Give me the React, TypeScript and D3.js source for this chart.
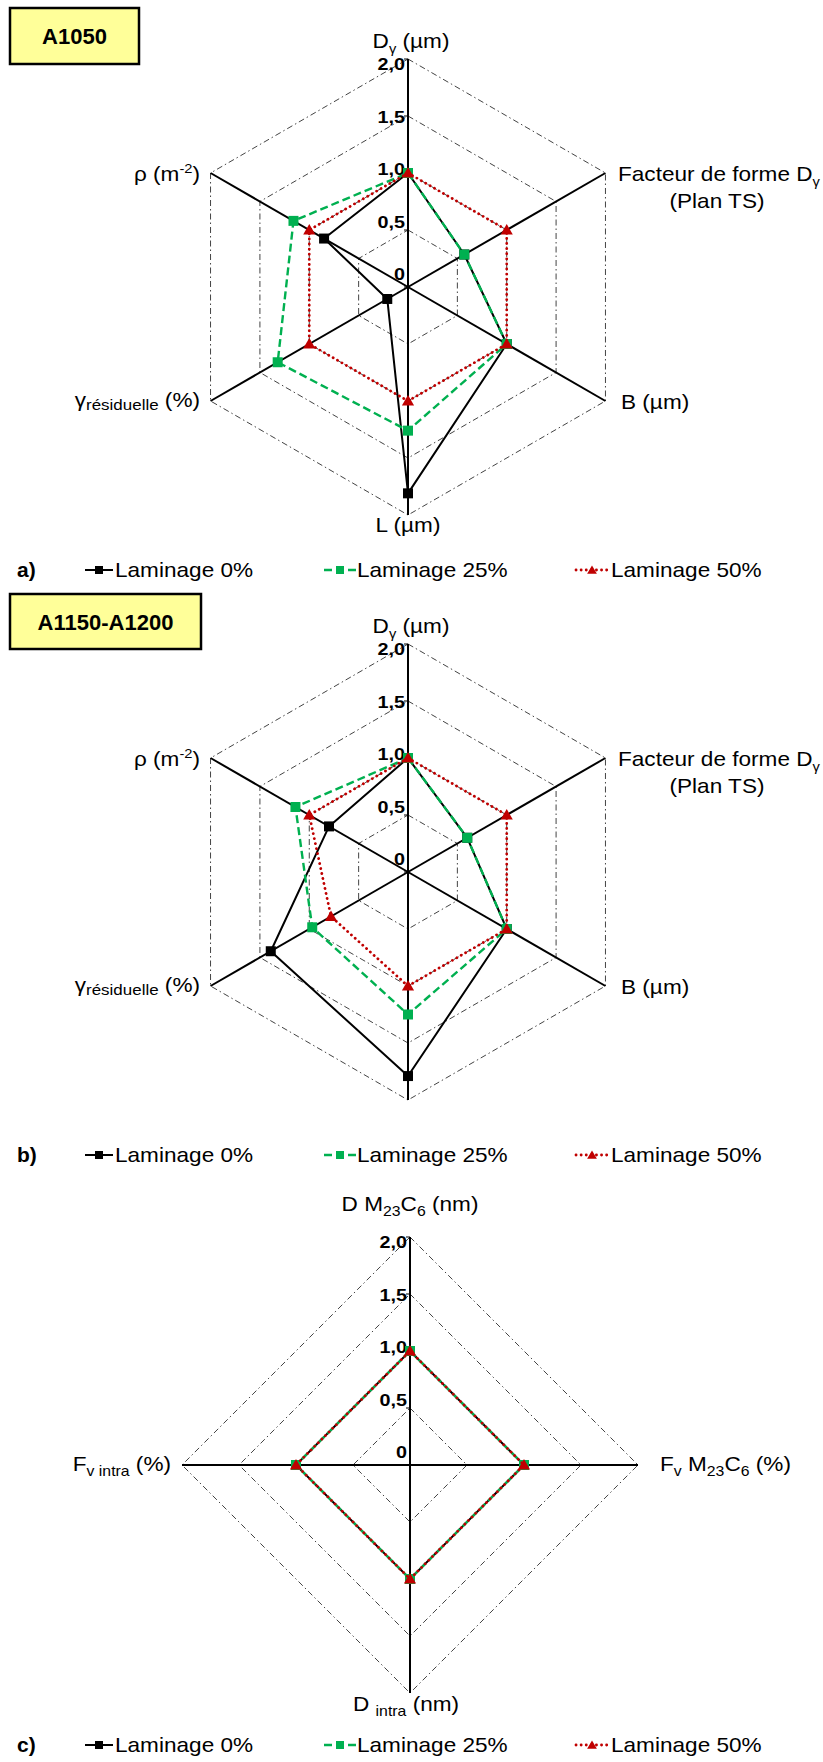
import React from "react";
import * as d3 from "d3";

const seriesNames = ["Laminage 0%", "Laminage 25%", "Laminage 50%"];
const seriesColors = ["#000000", "#00B050", "#C00000"];
const tickValues = [0, 0.5, 1.0, 1.5, 2.0];
const tickLabels = ["0", "0,5", "1,0", "1,5", "2,0"];

// Panel a (A1050) axes clockwise from top: Dγ, Facteur de forme, B, L, γ résiduelle, ρ
const axesA = ["Dγ (µm)", "Facteur de forme Dγ (Plan TS)", "B (µm)", "L (µm)", "γrésiduelle (%)", "ρ (m-2)"];
const lam0A = [1.0, 0.57, 1.0, 1.81, 0.21, 0.85];
const lam25A = [1.0, 0.57, 1.0, 1.26, 1.32, 1.16];
const lam50A = [1.0, 1.0, 1.0, 1.0, 1.0, 1.0];

// Panel b (A1150-A1200)
const axesB = axesA;
const lam0B = [1.0, 0.6, 1.0, 1.79, 1.39, 0.8];
const lam25B = [1.0, 0.6, 1.0, 1.25, 0.97, 1.14];
const lam50B = [1.0, 1.0, 1.0, 1.0, 0.78, 1.0];

// Panel c axes clockwise from top: D M23C6, Fv M23C6, D intra, Fv intra
const axesC = ["D M23C6 (nm)", "Fv M23C6 (%)", "D intra (nm)", "Fv intra (%)"];
const lam0C = [1.0, 1.0, 1.0, 1.0];
const lam25C = [1.0, 1.0, 1.0, 1.0];
const lam50C = [1.0, 1.0, 1.0, 1.0];

const panelTitles = ["A1050", "A1150-A1200"];
const panelLetters = ["a)", "b)", "c)"];

const FONT = "'Liberation Sans', Arial, Helvetica, sans-serif";
const W = 823;
const H = 1762;

function T({ x, y, anchor = "start", size = 20, weight = "normal", sx = 1.13, children }: any) {
  return (
    <text
      transform={`translate(${x},${y}) scale(${sx},1)`}
      textAnchor={anchor}
      fontSize={size}
      fontWeight={weight}
      fontFamily={FONT}
      fill="#000"
    >
      {children}
    </text>
  );
}

const lineStyles = [
  { dash: undefined, width: 2, cap: "butt" },
  { dash: "8,4", width: 2.4, cap: "butt" },
  { dash: "0.1,5", width: 2.8, cap: "round" },
];

function Marker({ s, x, y, scale = 1 }: any) {
  if (s === 2) {
    const d = d3.symbol().type(d3.symbolTriangle).size(64 * scale * scale)();
    return <path d={d || ""} transform={`translate(${x},${y + 1})`} fill={seriesColors[2]} />;
  }
  const d = d3.symbol().type(d3.symbolSquare).size(100 * scale * scale)();
  return <path d={d || ""} transform={`translate(${x},${y})`} fill={seriesColors[s]} />;
}

function Radar({ cx, cy, R, data }: any) {
  const n = data[0].length;
  const r = d3.scaleLinear().domain([0, 2]).range([0, R]);
  const rl = d3.scaleLinear().domain([0, 2]).range([13, R - 5]);
  const ang = (i: number) => (i * 2 * Math.PI) / n;
  const radial = d3
    .lineRadial<number>()
    .angle((_, i) => ang(i))
    .radius((v) => r(v))
    .curve(d3.curveLinearClosed);
  const pt = (i: number, v: number) => [r(v) * Math.sin(ang(i)), -r(v) * Math.cos(ang(i))];

  return (
    <g transform={`translate(${cx},${cy})`}>
      {tickValues
        .filter((v) => v > 0)
        .map((v) => (
          <path
            key={"g" + v}
            d={radial(new Array(n).fill(v)) || ""}
            fill="none"
            stroke="#444"
            strokeWidth={1}
            strokeDasharray="6,3,1.5,3"
          />
        ))}
      {d3.range(n).map((i) => {
        const [x, y] = pt(i, 2);
        return <line key={"s" + i} x1={0} y1={0} x2={x} y2={y} stroke="#000" strokeWidth={2} />;
      })}
      {tickValues.map((v) => (
        <line key={"t" + v} x1={-4} x2={0} y1={-r(v)} y2={-r(v)} stroke="#000" strokeWidth={1} />
      ))}
      {tickValues.map((v, k) => (
        <T key={"l" + v} x={-3} y={-rl(v) + 6} anchor="end" size={16.5} weight="bold" sx={1.2}>
          {tickLabels[k]}
        </T>
      ))}
      {data.map((vals: number[], s: number) => (
        <g key={"ser" + s}>
          <path
            d={radial(vals) || ""}
            fill="none"
            stroke={seriesColors[s]}
            strokeWidth={lineStyles[s].width}
            strokeDasharray={lineStyles[s].dash}
            strokeLinecap={lineStyles[s].cap as any}
            strokeLinejoin="round"
          />
          {vals.map((v, i) => {
            const [x, y] = pt(i, v);
            return <Marker key={i} s={s} x={x} y={y} />;
          })}
        </g>
      ))}
    </g>
  );
}

function Legend({ y, letter }: any) {
  const items = [
    { x1: 85, x2: 113, tx: 115 },
    { x1: 324, x2: 356, tx: 357 },
    { x1: 576, x2: 608, tx: 611 },
  ];
  return (
    <g>
      <T x={17} y={y + 7} size={20} weight="bold" sx={1.05}>
        {letter}
      </T>
      {items.map((it, s) => (
        <g key={s}>
          <line
            x1={it.x1}
            x2={it.x2}
            y1={y}
            y2={y}
            stroke={seriesColors[s]}
            strokeWidth={lineStyles[s].width}
            strokeDasharray={lineStyles[s].dash}
            strokeLinecap={lineStyles[s].cap as any}
          />
          <Marker s={s} x={(it.x1 + it.x2) / 2} y={y} scale={0.8} />
          <T x={it.tx} y={y + 7} size={20}>
            {seriesNames[s]}
          </T>
        </g>
      ))}
    </g>
  );
}

function TitleBox({ x, y, w, h, text }: any) {
  return (
    <g>
      <rect x={x} y={y} width={w} height={h} fill="#FFFF99" stroke="#000" strokeWidth={2.5} />
      <text
        x={x + w / 2}
        y={y + h / 2 + 8}
        textAnchor="middle"
        fontSize={22}
        fontWeight="bold"
        fontFamily={FONT}
      >
        {text}
      </text>
    </g>
  );
}

function HexLabels({ cx, cy, showL }: any) {
  return (
    <g>
      <T x={cx + 3} y={cy - 239} anchor="middle">
        D<tspan fontSize={13} dy={5}>γ</tspan>
        <tspan dy={-5}> (µm)</tspan>
      </T>
      <T x={cx + 210} y={cy - 106}>
        Facteur de forme D<tspan fontSize={13} dy={5}>γ</tspan>
      </T>
      <T x={cx + 309} y={cy - 79} anchor="middle">
        (Plan TS)
      </T>
      <T x={cx + 213} y={cy + 122}>
        B (µm)
      </T>
      {showL && (
        <T x={cx} y={cy + 245} anchor="middle">
          L (µm)
        </T>
      )}
      <T x={200} y={cy + 120} anchor="end">
        γ<tspan fontSize={15} dy={3}>résiduelle</tspan>
        <tspan dy={-3}> (%)</tspan>
      </T>
      <T x={200} y={cy - 106} anchor="end">
        ρ (m<tspan fontSize={13} dy={-8}>-2</tspan>
        <tspan dy={8}>)</tspan>
      </T>
    </g>
  );
}

function DiamondLabels({ cx, cy }: any) {
  return (
    <g>
      <T x={cx} y={cy - 254} anchor="middle">
        D M<tspan fontSize={14} dy={5}>23</tspan>
        <tspan dy={-5}>C</tspan>
        <tspan fontSize={14} dy={5}>6</tspan>
        <tspan dy={-5}> (nm)</tspan>
      </T>
      <T x={cx + 250} y={cy + 6}>
        F<tspan fontSize={14} dy={5}>v</tspan>
        <tspan dy={-5}> M</tspan>
        <tspan fontSize={14} dy={5}>23</tspan>
        <tspan dy={-5}>C</tspan>
        <tspan fontSize={14} dy={5}>6</tspan>
        <tspan dy={-5}> (%)</tspan>
      </T>
      <T x={cx - 57} y={cy + 246}>
        D <tspan fontSize={14} dy={5}>intra</tspan>
        <tspan dy={-5}> (nm)</tspan>
      </T>
      <T x={171} y={cy + 6} anchor="end">
        F<tspan fontSize={14} dy={5}>v intra</tspan>
        <tspan dy={-5}> (%)</tspan>
      </T>
    </g>
  );
}

export default function App() {
  const R = 228;
  const dataA = [lam0A, lam25A, lam50A];
  const dataB = [lam0B, lam25B, lam50B];
  const dataC = [lam0C, lam25C, lam50C];
  return (
    <svg
      width={W}
      height={H}
      viewBox={`0 0 ${W} ${H}`}
      style={{ position: "absolute", left: 0, top: 0, background: "#fff" }}
    >
      <rect x={0} y={0} width={W} height={H} fill="#fff" />
      <TitleBox x={10} y={8} w={129} h={56} text={panelTitles[0]} />
      <Radar cx={408} cy={287} R={R} data={dataA} />
      <HexLabels cx={408} cy={287} showL={true} />
      <Legend y={570} letter={panelLetters[0]} />

      <TitleBox x={10} y={594} w={191} h={55} text={panelTitles[1]} />
      <Radar cx={408} cy={872} R={R} data={dataB} />
      <HexLabels cx={408} cy={872} showL={false} />
      <Legend y={1155} letter={panelLetters[1]} />

      <Radar cx={410} cy={1465} R={R} data={dataC} />
      <DiamondLabels cx={410} cy={1465} />
      <Legend y={1745} letter={panelLetters[2]} />
    </svg>
  );
}
